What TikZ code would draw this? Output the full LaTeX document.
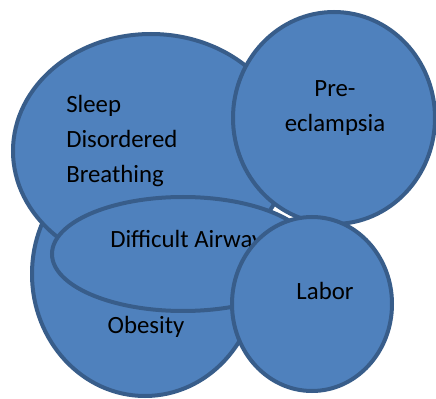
\documentclass[tikz,border=0pt]{standalone}
\usepackage{fontspec}
\setmainfont{Carlito}
\definecolor{venn-fill}{HTML}{4F81BD}
\definecolor{venn-edge}{HTML}{385D8A}

\begin{document}
\begin{tikzpicture}[x=0.75pt,y=-0.75pt,
  every node/.style={font=\fontsize{18.6}{26.25}\selectfont, inner sep=0pt},
  blob/.style={fill=venn-fill, draw=venn-edge, line width=3pt}]
  \useasboundingbox (0,0) rectangle (436,399);
  \draw[blob] (145,274) ellipse [x radius=113, y radius=122];
  \draw[blob] (151,151) ellipse [x radius=138, y radius=117];
  \draw[blob] (334,118) ellipse [x radius=101, y radius=106];
  \node[align=left, anchor=base west] (sleep) at (66,183) {Sleep\\Disordered\\Breathing};
  \node[align=center, anchor=base] (pre) at (335,132) {Pre-\\eclampsia};
  \node[anchor=base] (obesity) at (146,334) {Obesity};
  \draw[blob] (183,254) ellipse [x radius=131, y radius=57];
  \node[anchor=base west] (airway) at (110,248) {Difficult Airway};
  \draw[blob] (312,304) ellipse [x radius=80, y radius=87];
  \node[anchor=base] (labor) at (325,300) {Labor};
\end{tikzpicture}
\end{document}
